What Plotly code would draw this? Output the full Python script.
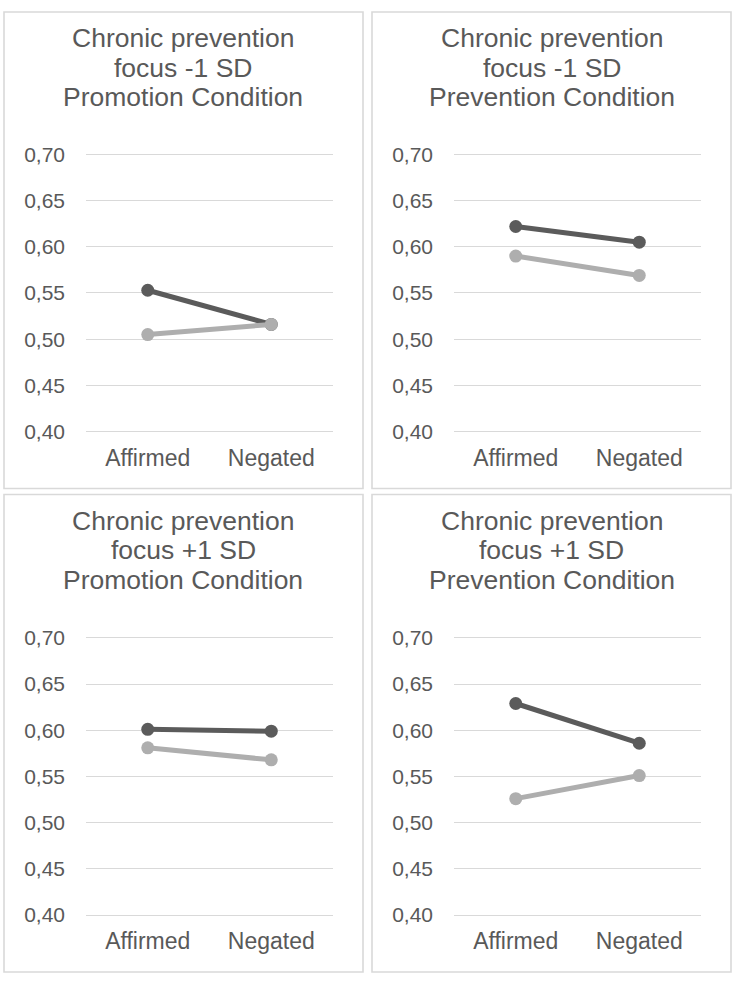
import plotly.graph_objects as go

# Data
categories = ["Affirmed", "Negated"]
panel_titles = [
    ["Chronic prevention", "focus -1 SD", "Promotion Condition"],
    ["Chronic prevention", "focus -1 SD", "Prevention Condition"],
    ["Chronic prevention", "focus +1 SD", "Promotion Condition"],
    ["Chronic prevention", "focus +1 SD", "Prevention Condition"],
]
dark_values = [
    [0.553, 0.516],
    [0.622, 0.605],
    [0.601, 0.599],
    [0.629, 0.586],
]
light_values = [
    [0.505, 0.516],
    [0.590, 0.569],
    [0.581, 0.568],
    [0.526, 0.551],
]
y_ticks = [0.40, 0.45, 0.50, 0.55, 0.60, 0.65, 0.70]

W, H = 732, 982
TEXT = "#595959"
GRID = "#D9D9D9"
DARK = "#5B5B5B"
LIGHT = "#AEAEAE"
FONT = "Liberation Sans, Arial, sans-serif"


def px_x(v):
    return v / W


def px_y(v):
    return 1 - v / H


# panel boxes (left, top, right, bottom) and plot areas in pixels
panels = [
    dict(box=(4, 3, 363, 488), plot=(86, 148, 333, 430)),
    dict(box=(372, 3, 731, 488), plot=(454, 148, 701, 430)),
    dict(box=(4, 494, 363, 980), plot=(86, 640, 333, 922)),
    dict(box=(372, 494, 731, 980), plot=(454, 640, 701, 922)),
]

# padding of a few pixels so the 0,40 and 0,70 gridlines are not clipped
y_lo, y_hi = 0.40, 0.70
px_per_unit = (430 - 148) / (y_hi - y_lo)
pad_px = 3
pad = pad_px / px_per_unit

fig = go.Figure()
shapes = []
annotations = []

for i, p in enumerate(panels):
    n = i + 1
    xa = "x" if n == 1 else f"x{n}"
    ya = "y" if n == 1 else f"y{n}"
    l, t, r, b = p["plot"]
    fig.add_trace(go.Scatter(
        x=categories, y=dark_values[i], xaxis=xa, yaxis=ya,
        mode="lines+markers",
        line=dict(color=DARK, width=5),
        marker=dict(color=DARK, size=13),
        showlegend=False, hoverinfo="skip",
    ))
    fig.add_trace(go.Scatter(
        x=categories, y=light_values[i], xaxis=xa, yaxis=ya,
        mode="lines+markers",
        line=dict(color=LIGHT, width=5),
        marker=dict(color=LIGHT, size=13),
        showlegend=False, hoverinfo="skip",
    ))
    xkey = "xaxis" if n == 1 else f"xaxis{n}"
    ykey = "yaxis" if n == 1 else f"yaxis{n}"
    fig.layout[xkey] = dict(
        domain=[px_x(l), px_x(r)], anchor=ya,
        type="category", range=[-0.5, 1.5],
        showgrid=False, zeroline=False, showline=False, ticks="",
        tickfont=dict(family=FONT, size=23, color=TEXT),
        ticklabelstandoff=10 - pad_px, fixedrange=True,
    )
    fig.layout[ykey] = dict(
        domain=[px_y(b + pad_px), px_y(t - pad_px)], anchor=xa,
        range=[y_lo - pad, y_hi + pad], tickvals=y_ticks, tickformat=".2f",
        showgrid=True, gridcolor=GRID, gridwidth=1.3,
        zeroline=False, showline=False, ticks="",
        tickfont=dict(family=FONT, size=21, color=TEXT),
        ticklabelstandoff=20, fixedrange=True,
    )

    bl, bt, br, bb = p["box"]
    shapes.append(dict(
        type="rect", xref="paper", yref="paper",
        x0=px_x(bl), x1=px_x(br), y0=px_y(bb), y1=px_y(bt),
        line=dict(color=GRID, width=1.6), fillcolor="rgba(0,0,0,0)",
        layer="below",
    ))

    cx = (bl + br) / 2
    for k, line in enumerate(panel_titles[i]):
        annotations.append(dict(
            text=line, xref="paper", yref="paper",
            x=px_x(cx), y=px_y(bt + 27 + 30 * k),
            xanchor="center", yanchor="middle", showarrow=False,
            font=dict(family=FONT, size=26.5, color=TEXT),
        ))

fig.update_layout(
    width=W, height=H, autosize=False,
    margin=dict(l=0, r=0, t=0, b=0),
    paper_bgcolor="white", plot_bgcolor="white",
    separators=", ",
    shapes=shapes, annotations=annotations,
)

fig.write_html("out.html", config={"displayModeBar": False})
